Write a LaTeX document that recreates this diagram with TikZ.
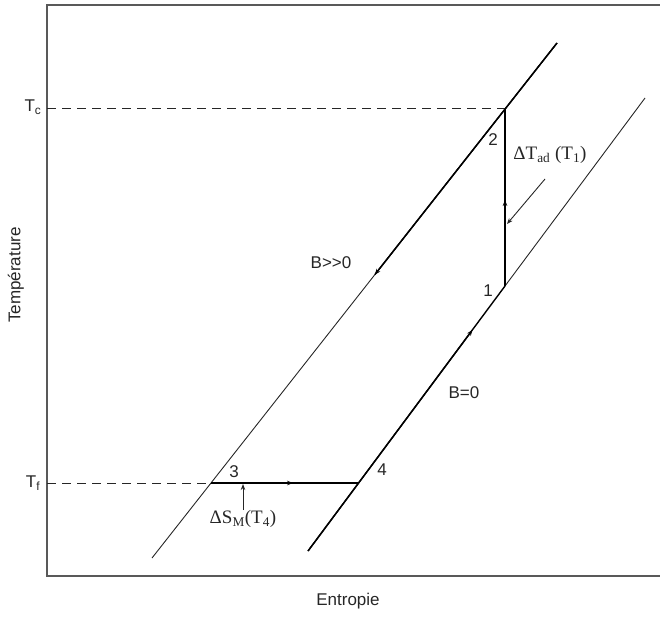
\documentclass[tikz,border=0pt]{standalone}
\usepackage{fontspec}
\setmainfont{Liberation Sans}
\newfontfamily\seriffont{Liberation Serif}
\usetikzlibrary{arrows.meta,calc}
\begin{document}
\begin{tikzpicture}[x=1pt,y=-1pt,
  font=\fontsize{17}{20}\selectfont,
  frame/.style={line width=1.8pt, draw=black!65},
  thinline/.style={line width=0.9pt, draw=black!85},
  thickline/.style={line width=1.4pt, draw=black},
  dashline/.style={line width=1pt, draw=black!85, dash pattern=on 9pt off 6pt},
  tip/.style={-{Stealth[length=6pt,width=4.5pt]}},
  lab/.style={inner sep=0pt, text=black!85},
  serlab/.style={inner sep=0pt, text=black!85, font=\seriffont\fontsize{19}{22}\selectfont}]
\useasboundingbox (0,0) rectangle (660,616);
% frame
\coordinate (TL) at (47,5);
\coordinate (TR) at (661,5);
\coordinate (BL) at (47,576);
\coordinate (BR) at (661,576);
\draw[frame] (TR) -- (TL) -- (BL) -- (BR);
% characteristic lines
\coordinate (Lb) at (152,558);
\coordinate (Lt) at (557,43);
\coordinate (Lm) at ($(Lt)!0.45!(Lb)$);
\coordinate (Rb) at (308,551);
\coordinate (Rt) at (645,98);
\coordinate (P2) at (505,108.5);
\coordinate (P1) at (505,286);
\coordinate (P3) at (211,483);
\coordinate (P4) at (358.6,483);
\coordinate (Yc) at (47,108.5);
\coordinate (Yf) at (47,483);
\draw[thinline] (Lb) -- (Lm);
\draw[thickline] (Lm) -- (Lt);
\draw[thickline] (Rb) -- (P1);
\draw[thinline] (P1) -- (Rt);
% cycle
\draw[thickline] (P2) -- (P1);
\draw[thickline] (P3) -- (P4);
\draw[dashline] (Yc) -- (P2);
\draw[dashline] (Yf) -- (P3);
% mid arrows
\draw[thickline,tip] (P3) -- ($(P3)!0.556!(P4)$);
\draw[thickline,tip] (P1) -- ($(P1)!0.485!(P2)$);
\draw[thickline,tip] (Rb) -- ($(Rb)!0.488!(Rt)$);
\draw[thickline,tip] (Lt) -- (Lm);
% labels
\node[lab] (Tc) at (33,107) {T\textsubscript{c}};
\node[lab] (Tf) at (33,483) {T\textsubscript{f}};
\node[lab,rotate=90] (ylab) at (16,275) {Température};
\node[lab] (xlab) at (348,601) {Entropie};
\node[lab] (n1) at (488,291) {1};
\node[lab] (n2) at (493,140) {2};
\node[lab] (n3) at (234,472) {3};
\node[lab] (n4) at (382,470) {4};
\node[lab] (Bbig) at (331,263) {B>\kern0pt>0};
\node[lab] (Bzero) at (464,393) {B=0};
\node[serlab] (dTad) at (550,155) {ΔT\textsubscript{ad} (T\textsubscript{1})};
\node[serlab] (dSM) at (243,519) {ΔS\textsubscript{M}(T\textsubscript{4})};
% annotation arrows
\coordinate (aT) at (545,179);
\coordinate (aTe) at (507,224);
\draw[thinline,tip] (aT) -- (aTe);
\coordinate (sm) at (243,484);
\draw[thinline,tip] (dSM.north) -- (sm);
\end{tikzpicture}
\end{document}
